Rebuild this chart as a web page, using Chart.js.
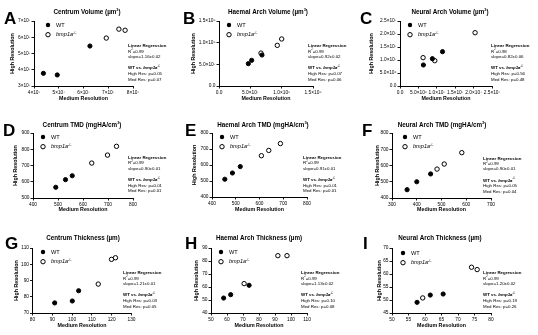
<!DOCTYPE html>
<html>
<head>
<meta charset="UTF-8">
<title>Medium vs High Resolution</title>
<script src="https://cdn.jsdelivr.net/npm/chart.js@4.4.1/dist/chart.umd.min.js"></script>
<style>
  body { margin: 0; background: #fff; }
  #wrap { position: relative; width: 538px; height: 335px; }
  #wrap canvas { position: absolute; }
</style>
</head>
<body>
<div id="wrap"></div>
<script>
// ---- data: [medium resolution] -> [high resolution] ----
const aWtMed = [4.38e7, 4.94e7, 6.26e7], aWtHigh = [3.78e7, 3.68e7, 5.46e7];
const aKoMed = [6.92e7, 7.43e7, 7.68e7], aKoHigh = [5.95e7, 6.5e7, 6.43e7];
const bWtMed = [4.68e7, 5.21e7, 6.86e7], bWtHigh = [5.15e7, 5.92e7, 7.15e7];
const bKoMed = [6.7e7, 9.3e7, 1.0e8],    bKoHigh = [7.6e7, 9.38e7, 1.085e8];
const cWtMed = [6.36e6, 8.8e6, 1.155e7], cWtHigh = [8.08e6, 1.05e7, 1.32e7];
const cKoMed = [6.27e6, 9.45e6, 2.04e7], cKoHigh = [1.09e7, 9.74e6, 2.05e7];
const dWtMed = [491, 530, 557], dWtHigh = [566, 613, 637];
const dKoMed = [635, 698, 734], dKoHigh = [715, 764, 818];
const eWtMed = [454, 486, 519], eWtHigh = [511, 550, 590];
const eKoMed = [608, 639, 688], eKoHigh = [658, 691, 734];
const fWtMed = [361, 400, 456], fWtHigh = [451, 500, 548];
const fKoMed = [482, 511, 582], fKoHigh = [578, 609, 679];
const gWtMed = [91.2, 100.1, 103.3], gWtHigh = [76.2, 77.4, 83.7];
const gKoMed = [113.2, 119.9, 121.9], gKoHigh = [87.8, 103, 104];
const hWtMed = [57.9, 62.3, 73.8], hWtHigh = [51.5, 54.1, 61.3];
const hKoMed = [70.7, 91.8, 97.5], hKoHigh = [62.6, 84.1, 84.1];
const iWtMed = [57.6, 61.6, 65.5], iWtHigh = [49.1, 51.9, 52.3];
const iKoMed = [59.3, 74.1, 75.8], iKoHigh = [50.8, 62.6, 61.7];

// tick labels
const aTicksX = ['4×10⁷', '5×10⁷', '6×10⁷', '7×10⁷', '8×10⁷'];
const aTicksY = ['3×10⁷', '4×10⁷', '5×10⁷', '6×10⁷', '7×10⁷'];
const bTicks = ['0.0', '5.0×10⁷', '1.0×10⁸', '1.5×10⁸'];
const cTicks = ['0.0', '5.0×10⁶', '1.0×10⁷', '1.5×10⁷', '2.0×10⁷', '2.5×10⁷'];
const dTicksX = ['400', '500', '600', '700', '800'];
const dTicksY = ['500', '600', '700', '800', '900'];
const eTicks = ['400', '500', '600', '700', '800'];
const fTicksX = ['300', '400', '500', '600', '700'];
const fTicksY = ['400', '500', '600', '700', '800'];
const gTicksX = ['80', '90', '100', '110', '120', '130'];
const gTicksY = ['70', '80', '90', '100', '110'];
const hTicksX = ['50', '60', '70', '80', '90', '100', '110'];
const hTicksY = ['40', '50', '60', '70', '80', '90'];
const iTicksX = ['50', '55', '60', '65', '70', '75', '80'];
const iTicksY = ['45', '50', '55', '60', '65', '70'];

// regression notes: R2, slope, high res p, med res p
const aNote = ['0.99', '1.16±0.02', '0.05', '0.07'];
const bNote = ['0.99', '0.92±0.02', '0.07', '0.06'];
const cNote = ['0.98', '0.82±0.06', '0.56', '0.48'];
const dNote = ['0.99', '0.90±0.01', '0.01', '0.01'];
const eNote = ['0.99', '0.91±0.01', '0.01', '0.01'];
const fNote = ['0.99', '0.90±0.01', '0.05', '0.04'];
const gNote = ['0.99', '1.21±0.01', '0.03', '0.05'];
const hNote = ['0.99', '1.13±0.02', '0.10', '0.08'];
const iNote = ['0.99', '1.20±0.02', '0.19', '0.26'];

const FONT = '"Liberation Sans", Arial, Helvetica, sans-serif';
const CW = 180, CH = 113, YW = 20, XH = 9;

// title runs: [text, superscript?]
const um3 = [['(µm', 0], ['3', 1], [')', 0]];
const cm3 = [['(mgHA/cm', 0], ['3', 1], [')', 0]];
const um = [['(µm)', 0]];

const panels = [
  { id: 'A', ox: 0, oy: 0, area: [34, 133, 21, 86], x: [4e7, 8e7, 1e7], y: [3e7, 7e7, 1e7], xt: aTicksX, yt: aTicksY,
    wt: [aWtMed, aWtHigh], ko: [aKoMed, aKoHigh], title: [['Centrum Volume ', 0]].concat(um3), note: aNote,
    tx: 87, ty: 12, lx: 4, ly: 24, ytx: 13, xty: 99, legx: 48, legy: 25, nx: 128, ny: 46 },
  { id: 'B', ox: 180, oy: 0, area: [39, 133, 21, 86], x: [0, 1.5e8, 5e7], y: [0, 1.5e8, 5e7], xt: bTicks, yt: bTicks,
    wt: [bWtMed, bWtHigh], ko: [bKoMed, bKoHigh], title: [['Haemal Arch Volume ', 0]].concat(um3), note: bNote,
    tx: 88, ty: 12, lx: 3, ly: 24, ytx: 14, xty: 99, legx: 49, legy: 25, nx: 128, ny: 46 },
  { id: 'C', ox: 358, oy: 0, area: [42, 134, 21, 86], x: [0, 2.5e7, 5e6], y: [0, 2.5e7, 5e6], xt: cTicks, yt: cTicks,
    wt: [cWtMed, cWtHigh], ko: [cKoMed, cKoHigh], title: [['Neural Arch Volume ', 0]].concat(um3), note: cNote,
    tx: 92, ty: 12, lx: 2, ly: 24, ytx: 14, xty: 99, legx: 52, legy: 25, nx: 133, ny: 46 },
  { id: 'D', ox: 0, oy: 110, area: [33, 133, 23, 88], x: [400, 800, 100], y: [500, 900, 100], xt: dTicksX, yt: dTicksY,
    wt: [dWtMed, dWtHigh], ko: [dKoMed, dKoHigh], title: [['Centrum TMD ', 0]].concat(cm3), note: dNote,
    tx: 82, ty: 15.5, lx: 3, ly: 26, ytx: 16, xty: 99.5, legx: 43, legy: 27, nx: 128, ny: 47.7 },
  { id: 'E', ox: 180, oy: 110, area: [32, 127, 23, 87], x: [400, 800, 100], y: [400, 800, 100], xt: eTicks, yt: eTicks,
    wt: [eWtMed, eWtHigh], ko: [eKoMed, eKoHigh], title: [['Haemal Arch TMD ', 0]].concat(cm3), note: eNote,
    tx: 83, ty: 15.5, lx: 5, ly: 26, ytx: 15, xty: 99.5, legx: 42, legy: 27, nx: 123, ny: 47.7 },
  { id: 'F', ox: 358, oy: 110, area: [34, 133, 23, 88], x: [300, 700, 100], y: [400, 800, 100], xt: fTicksX, yt: fTicksY,
    wt: [fWtMed, fWtHigh], ko: [fKoMed, fKoHigh], title: [['Neural Arch TMD ', 0]].concat(cm3), note: fNote,
    tx: 84, ty: 15.5, lx: 4, ly: 26, ytx: 20, xty: 99.5, legx: 47, legy: 27, nx: 125, ny: 48.3 },
  { id: 'G', ox: 0, oy: 222, area: [32.5, 131.5, 26, 91], x: [80, 130, 10], y: [70, 110, 10], xt: gTicksX, yt: gTicksY,
    wt: [gWtMed, gWtHigh], ko: [gKoMed, gKoHigh], title: [['Centrum Thickness ', 0]].concat(um), note: gNote,
    tx: 83, ty: 16, lx: 5, ly: 27, ytx: 17, xty: 104, legx: 43, legy: 30, nx: 123, ny: 51 },
  { id: 'H', ox: 180, oy: 222, area: [31, 127, 26, 91], x: [50, 110, 10], y: [40, 90, 10], xt: hTicksX, yt: hTicksY,
    wt: [hWtMed, hWtHigh], ko: [hKoMed, hKoHigh], title: [['Haemal Arch Thickness ', 0]].concat(um), note: hNote,
    tx: 79, ty: 16, lx: 5, ly: 27, ytx: 17, xty: 104, legx: 41, legy: 30, nx: 121, ny: 51 },
  { id: 'I', ox: 358, oy: 222, area: [34, 133, 26, 91], x: [50, 80, 5], y: [45, 70, 5], xt: iTicksX, yt: iTicksY,
    wt: [iWtMed, iWtHigh], ko: [iKoMed, iKoHigh], title: [['Neural Arch Thickness ', 0]].concat(um), note: iNote,
    tx: 82, ty: 16, lx: 5, ly: 27, ytx: 22, xty: 104, legx: 45, legy: 31, nx: 125, ny: 51 }
];

// draw a list of runs [text, sup, bold, italic]; returns width
function runs(ctx, list, x, y, size, bold, draw) {
  let cx = x;
  list.forEach(r => {
    const sup = r[1], b = r[2] !== undefined ? r[2] : bold, it = r[3];
    const s = sup ? size * 0.62 : size;
    ctx.font = (it ? 'italic ' : '') + (b ? 'bold ' : '') + s + 'px ' + FONT;
    if (draw) ctx.fillText(r[0], cx, sup ? y - size * 0.38 : y);
    cx += ctx.measureText(r[0]).width;
  });
  return cx - x;
}

function pts(xs, ys) {
  return xs.map((v, i) => ({ x: v, y: ys[i] }));
}

function deco(p) {
  return {
    id: 'deco' + p.id,
    afterDraw(chart) {
      const ctx = chart.ctx, ca = chart.chartArea;
      ctx.save();
      ctx.fillStyle = '#000';
      ctx.textBaseline = 'alphabetic';
      ctx.textAlign = 'left';
      // panel letter
      ctx.font = 'bold 17px ' + FONT;
      ctx.fillText(p.id, p.lx, p.ly);
      ctx.textBaseline = 'middle';
      // title
      const tw = runs(ctx, p.title, 0, 0, 6.3, true, false);
      runs(ctx, p.title, p.tx - tw / 2, p.ty, 6.3, true, true);
      // axis titles
      ctx.font = 'bold 5.3px ' + FONT;
      ctx.textAlign = 'center';
      ctx.fillText('Medium Resolution', (ca.left + ca.right) / 2, p.xty);
      ctx.save();
      ctx.translate(p.ytx, (ca.top + ca.bottom) / 2);
      ctx.rotate(-Math.PI / 2);
      ctx.fillText('High Resolution', 0, 0);
      ctx.restore();
      ctx.textAlign = 'left';
      // legend
      ctx.lineWidth = 1;
      ctx.strokeStyle = '#000';
      ctx.beginPath();
      ctx.arc(p.legx, p.legy, 2.2, 0, Math.PI * 2);
      ctx.fill();
      ctx.beginPath();
      ctx.arc(p.legx, p.legy + 9.7, 2.2, 0, Math.PI * 2);
      ctx.fillStyle = '#fff';
      ctx.fill();
      ctx.stroke();
      ctx.fillStyle = '#000';
      runs(ctx, [['WT', 0]], p.legx + 8, p.legy, 5.6, false, true);
      runs(ctx, [['bmp1a', 0, false, true], ['-/-', 1, false, false]], p.legx + 8, p.legy + 9.7, 5.6, false, true);
      // regression note
      const n = p.note, x = p.nx, y = p.ny, fs = 4.4;
      runs(ctx, [['Linear Regression', 0]], x, y, fs, true, true);
      runs(ctx, [['R', 0], ['2', 1], ['=' + n[0], 0]], x, y + 5.3, fs, false, true);
      runs(ctx, [['slope=' + n[1], 0]], x, y + 10.8, fs, false, true);
      runs(ctx, [['WT vs. ', 0], ['bmp1a', 0, true, true], ['-/-', 1]], x, y + 22, fs, true, true);
      runs(ctx, [['High Res: p=' + n[2], 0]], x, y + 27.8, fs, false, true);
      runs(ctx, [['Med Res: p=' + n[3], 0]], x, y + 33.3, fs, false, true);
      ctx.restore();
    }
  };
}

function axis(range, labels, horizontal) {
  return {
    type: 'linear',
    min: range[0],
    max: range[1],
    grid: { drawOnChartArea: false, drawTicks: true, tickLength: 2.5, color: '#000', lineWidth: 0.9 },
    border: { display: true, color: '#000', width: 1 },
    ticks: {
      stepSize: range[2],
      autoSkip: false,
      maxRotation: 0,
      minRotation: 0,
      padding: 1,
      color: '#000',
      font: { family: FONT, size: 4.8 },
      callback: (v, i) => labels[i] !== undefined ? labels[i] : ''
    },
    afterFit(scale) {
      if (horizontal) scale.height = XH; else scale.width = YW;
      scale.paddingTop = 0; scale.paddingBottom = 0;
      scale.paddingLeft = 0; scale.paddingRight = 0;
    }
  };
}

const wrap = document.getElementById('wrap');
panels.forEach(p => {
  const cv = document.createElement('canvas');
  cv.width = CW; cv.height = CH;
  cv.style.left = p.ox + 'px';
  cv.style.top = p.oy + 'px';
  cv.style.width = CW + 'px';
  cv.style.height = CH + 'px';
  wrap.appendChild(cv);
  const [L, R, T, B] = p.area;
  new Chart(cv, {
    type: 'scatter',
    data: {
      datasets: [{
        label: 'WT',
        data: pts(p.wt[0], p.wt[1]),
        backgroundColor: '#000',
        borderColor: '#000',
        pointRadius: 2.1,
        borderWidth: 1
      }, {
        label: 'bmp1a-/-',
        data: pts(p.ko[0], p.ko[1]),
        backgroundColor: '#fff',
        borderColor: '#000',
        pointRadius: 2.2,
        borderWidth: 1
      }]
    },
    options: {
      responsive: false,
      animation: false,
      devicePixelRatio: 1,
      layout: { padding: { left: L - YW, right: CW - R, top: T, bottom: CH - B - XH } },
      plugins: { legend: { display: false }, tooltip: { enabled: false } },
      scales: { x: axis(p.x, p.xt, true), y: axis(p.y, p.yt, false) }
    },
    plugins: [deco(p)]
  });
});
</script>
</body>
</html>
